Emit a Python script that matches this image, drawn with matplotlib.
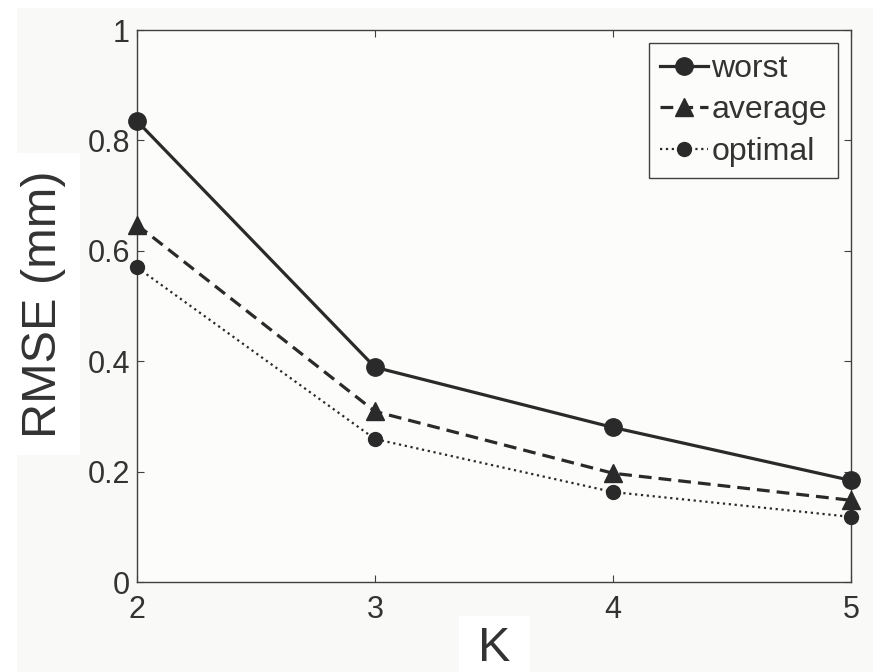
import matplotlib
matplotlib.use("Agg")
import matplotlib.pyplot as plt
from matplotlib.patches import Rectangle

plt.rcParams['font.family'] = ['Liberation Sans', 'DejaVu Sans']

K = [2, 3, 4, 5]
worst = [0.835, 0.389, 0.280, 0.184]
average = [0.647, 0.309, 0.197, 0.148]
optimal = [0.570, 0.259, 0.163, 0.118]
labels = ['worst', 'average', 'optimal']
xticks = [2, 3, 4, 5]
yticks = [0, 0.2, 0.4, 0.6, 0.8, 1]
ytick_labels = ['0', '0.2', '0.4', '0.6', '0.8', '1']

W, H = 873, 672
fig = plt.figure(figsize=(W / 100, H / 100), dpi=100, facecolor='white')
# light grey background inside a thin white border
fig.patches.append(Rectangle((17 / W, 0), 1 - 17 / W, 1 - 8 / H, transform=fig.transFigure,
                             facecolor='#f9f9f7', edgecolor='none', zorder=-10))

ax = fig.add_axes([137 / W, (H - 582) / H, (851 - 137) / W, (582 - 30) / H])
ax.set_facecolor('#fcfcfb')

c = '#2a2a2a'
ax.plot(K, worst, '-', color=c, lw=2.3, marker='o', ms=12.5, label=labels[0], clip_on=False, zorder=5)
ax.plot(K, average, '--', color=c, lw=2.3, marker='^', ms=12.5, dashes=(4, 2.2), label=labels[1], clip_on=False, zorder=5)
ax.plot(K, optimal, ':', color=c, lw=1.6, marker='o', ms=10, label=labels[2], clip_on=False, zorder=5)

ax.set_xlim(2, 5)
ax.set_ylim(0, 1)
ax.set_xticks(xticks)
ax.set_xticklabels([str(x) for x in xticks])
ax.set_yticks(yticks)
ax.set_yticklabels(ytick_labels)
ax.tick_params(direction='in', length=5, width=0.8, color='#404040', labelsize=22,
               labelcolor='#333333', top=True, right=True)
ax.tick_params(axis='x', pad=9)
ax.tick_params(axis='y', pad=5)
for s in ax.spines.values():
    s.set_color('#404040')
    s.set_linewidth(1.0)

leg = ax.legend(loc='upper right', fontsize=23, frameon=True, fancybox=False,
                handlelength=1.5, handletextpad=0.1, labelspacing=0.36,
                borderpad=0.35, borderaxespad=0.4, edgecolor='#404040',
                facecolor='#fcfcfb', framealpha=1)
leg.get_frame().set_linewidth(1.0)
for t in leg.get_texts():
    t.set_color('#333333')

# label backgrounds
fig.patches.append(Rectangle((17 / W, (H - 455) / H), 63 / W, 302 / H, transform=fig.transFigure,
                             facecolor='white', edgecolor='none', zorder=-5))
fig.patches.append(Rectangle((459 / W, 0), 71 / W, (H - 616) / H, transform=fig.transFigure,
                             facecolor='white', edgecolor='none', zorder=-5))

fig.text(44 / W, (H - 304) / H, 'RMSE (mm)', rotation=90, ha='center', va='center',
         fontsize=35, color='#333333')
fig.text(494 / W, (H - 661) / H, 'K', ha='center', va='baseline', fontsize=35, color='#333333')

fig.savefig('out.png', dpi=100, facecolor=fig.get_facecolor())
